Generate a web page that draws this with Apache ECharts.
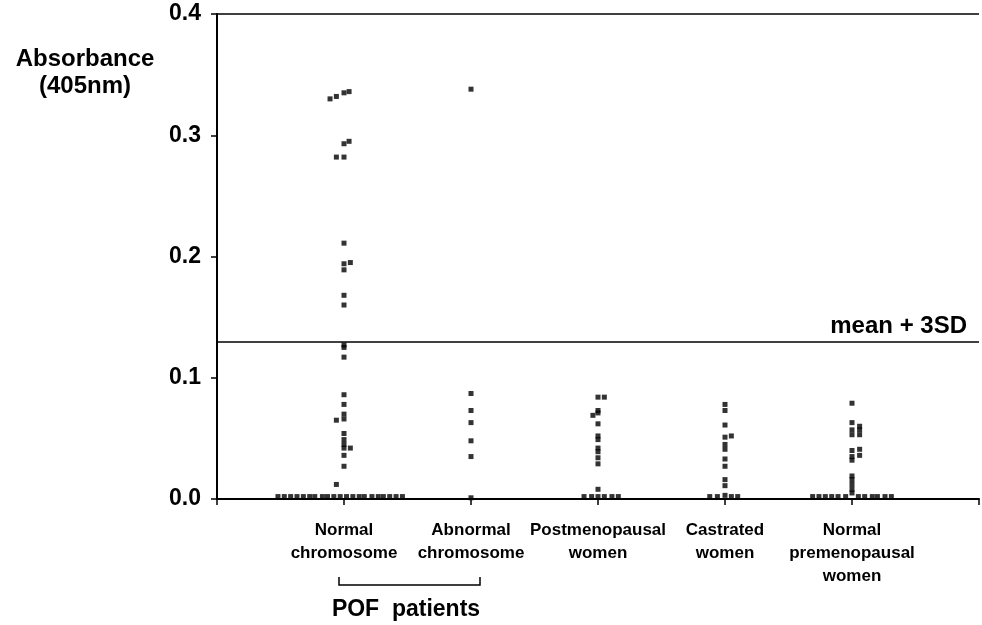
<!DOCTYPE html>
<html>
<head>
<meta charset="utf-8">
<script src="https://cdn.jsdelivr.net/npm/echarts@6/dist/echarts.min.js"></script>
<style>
  html, body { margin: 0; padding: 0; background: #fff; }
  #main { width: 982px; height: 625px; }
</style>
</head>
<body>
<div id="main"></div>
<script>
// group labels (x positions 1..5)
var categories = ['Normal\nchromosome', 'Abnormal\nchromosome', 'Postmenopausal\nwomen', 'Castrated\nwomen', 'Normal\npremenopausal\nwomen'];
var yTicks = [0, 0.1, 0.2, 0.3, 0.4];
var meanPlus3SD = 0.129;

// absorbance values read per group, with horizontal spread (in group units)
var normalChromVal = [0.336, 0.335, 0.332, 0.330, 0.295, 0.293, 0.282, 0.282, 0.211, 0.195, 0.194, 0.189, 0.168, 0.160,
  0.127, 0.125, 0.117, 0.086, 0.078, 0.070, 0.066, 0.065, 0.054, 0.049, 0.045, 0.042, 0.042, 0.036, 0.027, 0.012,
  0.002, 0.002, 0.002, 0.002, 0.002, 0.002, 0.002, 0.002, 0.002, 0.002, 0.002, 0.002, 0.002, 0.002, 0.002, 0.002,
  0.002, 0.002, 0.002, 0.002, 0.002];
var normalChromDx = [0.04, 0, -0.06, -0.11, 0.04, 0, -0.06, 0, 0, 0.05, 0, 0, 0, 0,
  0, 0, 0, 0, 0, 0, 0, -0.06, 0, 0, 0, 0, 0.05, 0, 0, -0.06,
  -0.52, -0.47, -0.42, -0.37, -0.32, -0.27, -0.23, -0.17, -0.13, -0.08, -0.03, 0.02, 0.07, 0.12, 0.16, 0.22,
  0.27, 0.31, 0.36, 0.41, 0.46];

var abnormalChromVal = [0.338, 0.087, 0.073, 0.063, 0.048, 0.035, 0.001];
var abnormalChromDx = [0, 0, 0, 0, 0, 0, 0];

var postmenoVal = [0.084, 0.084, 0.073, 0.071, 0.069, 0.062, 0.052, 0.049, 0.042, 0.039, 0.034, 0.029, 0.008,
  0.002, 0.002, 0.002, 0.002, 0.002, 0.002];
var postmenoDx = [0, 0.05, 0, 0, -0.04, 0, 0, 0, 0, 0, 0, 0, 0,
  -0.11, -0.05, 0, 0.05, 0.11, 0.16];

var castratedVal = [0.078, 0.073, 0.061, 0.051, 0.052, 0.045, 0.041, 0.033, 0.027, 0.016, 0.011, 0.003,
  0.002, 0.002, 0.002, 0.002];
var castratedDx = [0, 0, 0, 0, 0.05, 0, 0, 0, 0, 0, 0, 0,
  -0.12, -0.06, 0.05, 0.10];

var premenoVal = [0.079, 0.063, 0.060, 0.057, 0.057, 0.053, 0.053, 0.040, 0.041, 0.035, 0.036, 0.032,
  0.019, 0.016, 0.012, 0.008, 0.005,
  0.002, 0.002, 0.002, 0.002, 0.002, 0.002, 0.002, 0.002, 0.002, 0.002, 0.002, 0.002];
var premenoDx = [0, 0, 0.06, 0, 0.06, 0, 0.06, 0, 0.06, 0, 0.06, 0,
  0, 0, 0, 0, 0,
  -0.31, -0.26, -0.21, -0.16, -0.11, -0.05, 0.05, 0.10, 0.16, 0.20, 0.26, 0.31];

var groups = [
  [normalChromVal, normalChromDx],
  [abnormalChromVal, abnormalChromDx],
  [postmenoVal, postmenoDx],
  [castratedVal, castratedDx],
  [premenoVal, premenoDx]
];

var FONT = 'Liberation Sans';

var series = groups.map(function (g, i) {
  var pts = [];
  for (var k = 0; k < g[0].length; k++) {
    pts.push([i + 1 + g[1][k], g[0][k]]);
  }
  return {
    name: categories[i],
    type: 'scatter',
    symbol: 'rect',
    symbolSize: 5,
    itemStyle: { color: '#000' },
    data: pts,
    z: 3
  };
});

// reference lines: top frame and mean + 3SD cut-off
series[0].markLine = {
  silent: true,
  symbol: 'none',
  lineStyle: { color: '#000', width: 1.5, type: 'solid' },
  data: [
    { yAxis: yTicks[yTicks.length - 1], label: { show: false } },
    {
      yAxis: meanPlus3SD,
      label: {
        show: true,
        position: 'insideEndTop',
        formatter: 'mean + 3SD',
        color: '#000',
        fontFamily: FONT,
        fontWeight: 'bold',
        fontSize: 24,
        distance: [12, 3]
      }
    }
  ]
};

var chart = echarts.init(document.getElementById('main'));
chart.setOption({
  backgroundColor: '#fff',
  animation: false,
  grid: { left: 217, right: 0, top: 14, bottom: 126 },
  xAxis: {
    type: 'value',
    min: 0,
    max: 6,
    interval: 1,
    splitLine: { show: false },
    axisLine: { lineStyle: { color: '#000', width: 2 } },
    axisTick: { length: 6, lineStyle: { color: '#000', width: 1.5 } },
    axisLabel: {
      margin: 20,
      color: '#000',
      fontFamily: FONT,
      fontWeight: 'bold',
      fontSize: 17,
      lineHeight: 23,
      formatter: function (v) { return categories[v - 1] || ''; }
    }
  },
  yAxis: {
    type: 'value',
    min: 0,
    max: 0.4,
    interval: 0.1,
    splitLine: { show: false },
    axisLine: { show: true, lineStyle: { color: '#000', width: 2 } },
    axisTick: { show: true, length: 6, lineStyle: { color: '#000', width: 1.5 } },
    axisLabel: {
      margin: 16,
      color: '#000',
      fontFamily: FONT,
      fontWeight: 'bold',
      fontSize: 23,
      formatter: function (v) { return v.toFixed(1); }
    }
  },
  graphic: [
    {
      type: 'text',
      x: 85,
      y: 46,
      style: {
        text: 'Absorbance\n(405nm)',
        font: 'bold 24px "Liberation Sans"',
        fill: '#000',
        textAlign: 'center',
        lineHeight: 27
      }
    },
    // POF patients bracket
    {
      type: 'polyline',
      shape: { points: [[339, 577], [339, 585], [480, 585], [480, 577]] },
      style: { stroke: '#000', lineWidth: 1.5, fill: null }
    },
    {
      type: 'text',
      x: 406,
      y: 598,
      style: {
        text: 'POF  patients',
        font: 'bold 23px "Liberation Sans"',
        fill: '#000',
        textAlign: 'center'
      }
    }
  ],
  series: series
});
</script>
</body>
</html>
